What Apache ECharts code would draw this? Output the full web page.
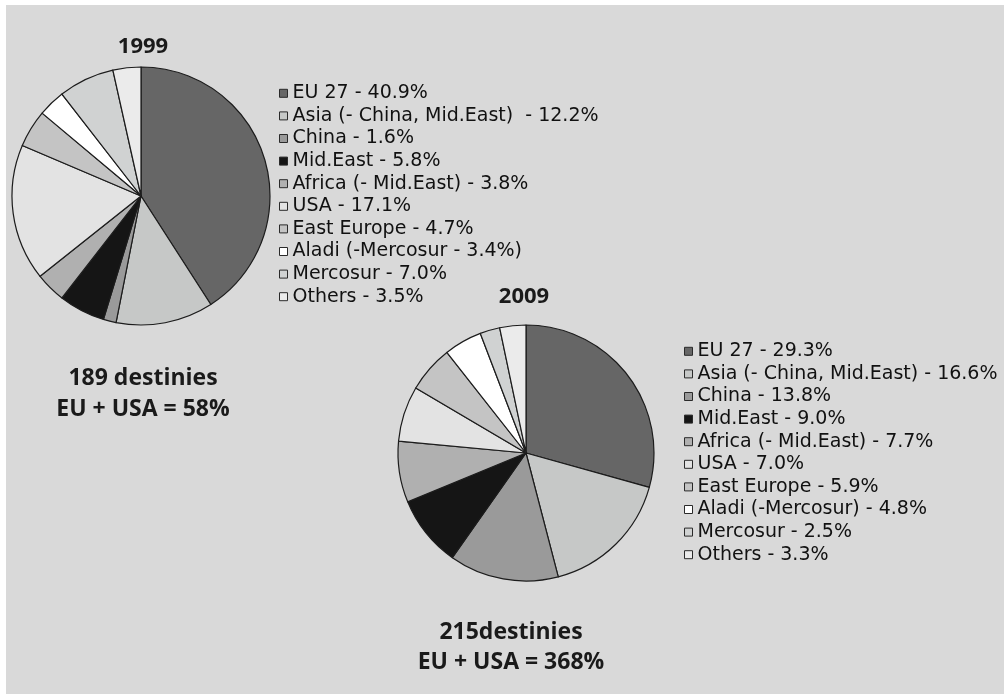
<!DOCTYPE html>
<html>
<head>
<meta charset="utf-8">
<script src="https://cdn.jsdelivr.net/npm/echarts@6/dist/echarts.min.js"></script>
<style>
  html, body { margin: 0; padding: 0; background: #ffffff; }
  #chart { width: 1006px; height: 694px; }
</style>
</head>
<body>
<div id="chart"></div>
<script>
// Export destinations, share of total (%)
const categories = ['EU 27', 'Asia (- China, Mid.East)', 'China', 'Mid.East', 'Africa (- Mid.East)',
                    'USA', 'East Europe', 'Aladi (-Mercosur)', 'Mercosur', 'Others'];
const share1999 = [40.9, 12.2, 1.6, 5.8, 3.8, 17.1, 4.7, 3.4, 7.0, 3.5];
const share2009 = [29.3, 16.6, 13.8, 9.0, 7.7, 7.0, 5.9, 4.8, 2.5, 3.3];

// Legend wording per year ({v} is replaced by the share)
const legendText1999 = ['EU 27 - {v}%', 'Asia (- China, Mid.East)  - {v}%', 'China - {v}%', 'Mid.East - {v}%',
                        'Africa (- Mid.East) - {v}%', 'USA - {v}%', 'East Europe - {v}%',
                        'Aladi (-Mercosur - {v}%)', 'Mercosur - {v}%', 'Others - {v}%'];
const legendText2009 = ['EU 27 - {v}%', 'Asia (- China, Mid.East) - {v}%', 'China - {v}%', 'Mid.East - {v}%',
                        'Africa (- Mid.East) - {v}%', 'USA - {v}%', 'East Europe - {v}%',
                        'Aladi (-Mercosur) - {v}%', 'Mercosur - {v}%', 'Others - {v}%'];

const years = ['1999', '2009'];
const summary1999 = ['189 destinies', 'EU + USA = 58%'];
const summary2009 = ['215destinies', 'EU + USA = 368%'];

const sliceColors = ['#666666', '#c6c8c7', '#9a9a9a', '#151515', '#b0b0b0',
                     '#e3e3e3', '#c4c4c4', '#ffffff', '#d0d2d2', '#ebebeb'];

const legendFont = { fontFamily: 'DejaVu Sans', fontSize: 19, lineHeight: 22.6, color: '#111111' };
const boldFont = '"Open Sans"';

function legendLabel(patterns, values) {
  return function (name) {
    const i = categories.indexOf(name);
    return patterns[i].replace('{v}', values[i].toFixed(1));
  };
}

function pieData(values) {
  return categories.map((name, i) => ({ name: name, value: values[i] }));
}

const chart = echarts.init(document.getElementById('chart'), null, { renderer: 'canvas' });

const pieCommon = {
  type: 'pie',
  startAngle: 90,
  clockwise: true,
  label: { show: false },
  labelLine: { show: false },
  emphasis: { disabled: true },
  itemStyle: { borderColor: '#1c1c1c', borderWidth: 1.2 }
};

const legendCommon = {
  orient: 'vertical',
  icon: 'rect',
  itemWidth: 8,
  itemHeight: 8,
  itemGap: 0,
  selectedMode: false,
  padding: 0,
  itemStyle: { borderColor: '#2a2a2a', borderWidth: 1 },
  textStyle: legendFont,
  data: categories
};

chart.setOption({
  animation: false,
  backgroundColor: '#ffffff',
  color: sliceColors,
  graphic: [
    { type: 'rect', z: -10, silent: true,
      shape: { x: 6, y: 5, width: 998, height: 689 },
      style: { fill: '#d9d9d9' } },
    { type: 'text', silent: true, x: 143, y: 47,
      style: { text: years[0], font: 'bold 22px ' + boldFont, fill: '#1a1a1a',
               textAlign: 'center', textVerticalAlign: 'middle' } },
    { type: 'text', silent: true, x: 524, y: 297,
      style: { text: years[1], font: 'bold 22px ' + boldFont, fill: '#1a1a1a',
               textAlign: 'center', textVerticalAlign: 'middle' } },
    { type: 'text', silent: true, x: 143, y: 394,
      style: { text: summary1999.join('\n'), font: 'bold 23px ' + boldFont, lineHeight: 31,
               fill: '#1a1a1a', textAlign: 'center', textVerticalAlign: 'middle' } },
    { type: 'text', silent: true, x: 511, y: 647,
      style: { text: summary2009.join('\n'), font: 'bold 23px ' + boldFont, lineHeight: 30,
               fill: '#1a1a1a', textAlign: 'center', textVerticalAlign: 'middle' } }
  ],
  legend: [
    Object.assign({}, legendCommon, {
      left: 279, top: 82,
      formatter: legendLabel(legendText1999, share1999)
    }),
    Object.assign({}, legendCommon, {
      left: 684, top: 340,
      formatter: legendLabel(legendText2009, share2009)
    })
  ],
  series: [
    Object.assign({}, pieCommon, {
      name: years[0], center: [141, 196], radius: 129,
      data: pieData(share1999)
    }),
    Object.assign({}, pieCommon, {
      name: years[1], center: [526, 453], radius: 128,
      data: pieData(share2009)
    })
  ]
});
</script>
</body>
</html>
